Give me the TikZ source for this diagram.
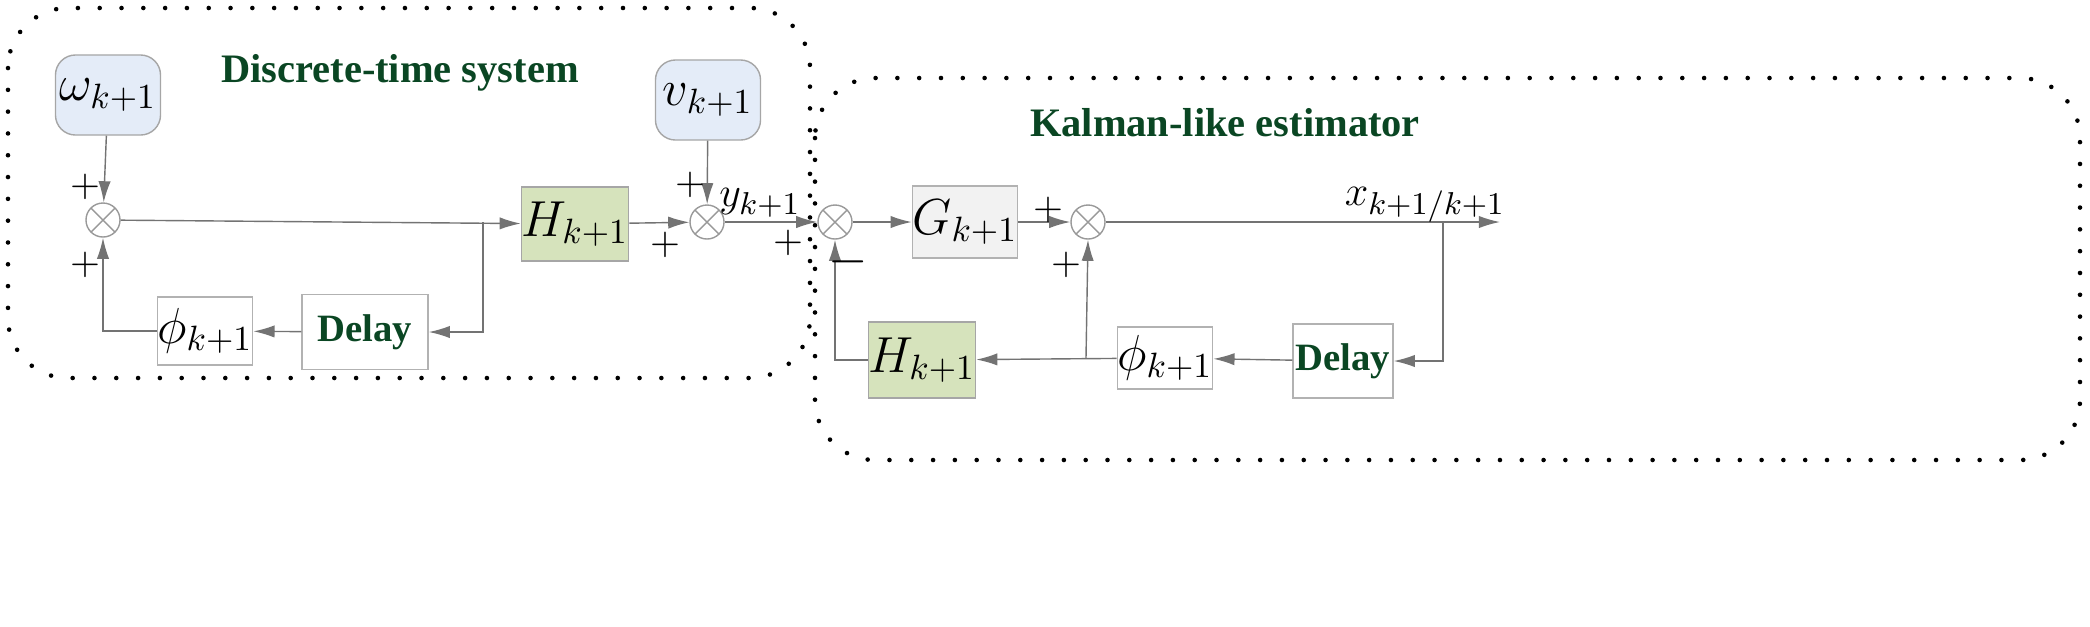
\documentclass[tikz,border=0pt]{standalone}
\usepackage{fontspec}
\setmainfont{Liberation Serif}
\usetikzlibrary{arrows.meta}
\definecolor{dgreen}{RGB}{10,70,35}
\definecolor{lblue}{RGB}{228,236,248}
\definecolor{lgreen}{RGB}{214,227,188}
\definecolor{lgray}{RGB}{242,242,242}
\begin{document}
\begin{tikzpicture}[x=0.01cm,y=-0.01cm,
  blk/.style={draw=gray!70, thin, minimum width=#1, inner sep=0pt},
  src/.style={blk=1.05cm, fill=lblue, rounded corners=0.2cm, minimum height=0.8cm, font=\fontsize{14}{16}\selectfont},
  hb/.style={blk=1cm, fill=lgreen, minimum height=0.74cm, font=\fontsize{14}{16}\selectfont},
  sum/.style={draw=gray!80, circle, minimum size=0.34cm, inner sep=0pt, path picture={\draw[gray!80] (path picture bounding box.north west)--(path picture bounding box.south east) (path picture bounding box.north east)--(path picture bounding box.south west);}},
  ttl/.style={font=\bfseries\fontsize{11.5}{14}\selectfont, text=dgreen},
  dl/.style={draw=gray!60, thin, inner sep=0pt, font=\bfseries\fontsize{11}{13}\selectfont, text=dgreen},
  ar/.style={-{Latex[length=6pt,width=3.5pt]}, draw=gray!90!black, thin},
  sg/.style={font=\fontsize{11}{13}\selectfont},
  dotbox/.style={line width=1.3pt, line cap=round, dash pattern=on 0pt off 6.2pt, rounded corners=0.6cm}]
\useasboundingbox (0,0) rectangle (2090,626);
\draw[dotbox] (8,8) rectangle (810,378);
\draw[dotbox] (815,78) rectangle (2080,460);
\node[ttl] (t1) at (400,73) {Discrete-time system};
\node[ttl] (t2) at (1225,123) {Kalman-like estimator};
\node[src] (w) at (108,95) {$\omega_{k+1}$};
\node[src] (v) at (708,100) {$v_{k+1}$};
\node[sum] (s1) at (103,220) {};
\node[hb] (H1) at (575,224) {$H_{k+1}$};
\node[sum] (s2) at (707,222) {};
\node[sum] (s3) at (835,222) {};
\node[blk=1cm, draw=gray!60, fill=lgray, minimum height=0.72cm, font=\fontsize{14}{16}\selectfont] (G) at (965,222) {$G_{k+1}$};
\node[sum] (s4) at (1088,222) {};
\coordinate (out) at (1500,222);
\coordinate (b1) at (1443,222);
\node[dl, minimum width=1cm, minimum height=0.74cm] (D2) at (1343,361) {Delay};
\node[blk=0.75cm, draw=gray!60, minimum height=0.62cm, font=\fontsize{14}{16}\selectfont] (P2) at (1165,358) {$\phi_{k+1}$};
\node[hb, minimum height=0.76cm] (H2) at (922,360) {$H_{k+1}$};
\coordinate (b2) at (1086,358);
\coordinate (b3) at (483,222);
\node[dl, minimum width=1.26cm, minimum height=0.75cm] (D1) at (365,332) {Delay};
\node[blk=0.74cm, draw=gray!60, minimum height=0.68cm, font=\fontsize{14}{16}\selectfont] (P1) at (205,331) {$\phi_{k+1}$};
\draw[ar] (w) -- (s1);
\draw[ar] (s1) -- (H1);
\draw[ar] (b3) |- (D1.east);
\draw[ar] (D1) -- (P1);
\draw[ar] (P1.west) -| (s1.south);
\draw[ar] (H1) -- (s2);
\draw[ar] (v) -- (s2);
\draw[ar] (s2) -- (s3);
\draw[ar] (s3) -- (G);
\draw[ar] (G) -- (s4);
\draw[ar] (s4) -- (out);
\draw[ar] (b1) |- (D2.east);
\draw[ar] (D2) -- (P2);
\draw[ar] (P2) -- (H2);
\draw[ar] (b2) -- (s4.south);
\draw[ar] (H2.west) -| (s3.south);
\node[font=\fontsize{13}{15}\selectfont] (y) at (760,203) {$y_{k+1}$};
\node[font=\fontsize{13}{15}\selectfont] (x) at (1425,205) {$x_{k+1/k+1}$};
\node[sg] (p1) at (85,187) {$+$};
\node[sg] (p2) at (85,265) {$+$};
\node[sg] (p3) at (690,185) {$+$};
\node[sg] (p4) at (665,245) {$+$};
\node[sg] (p5) at (788,243) {$+$};
\node[sg] (p6) at (1048,210) {$+$};
\node[sg] (p7) at (1066,265) {$+$};
\node[font=\bfseries\fontsize{14}{16}\selectfont] (m) at (848,262) {$-$};
\end{tikzpicture}
\end{document}
